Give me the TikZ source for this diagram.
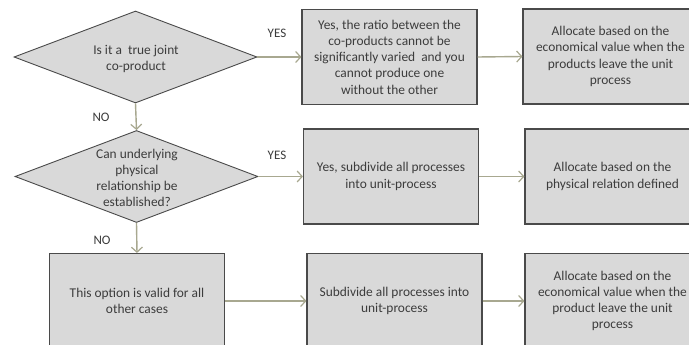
\documentclass[tikz,border=0pt]{standalone}
\usepackage{fontspec}
\setmainfont{Carlito}
\usetikzlibrary{shapes.geometric,arrows.meta}
\definecolor{boxfill}{HTML}{D9D9D9}
\definecolor{boxline}{HTML}{4A4A4A}
\definecolor{txt}{HTML}{3C3C3C}
\definecolor{arr}{HTML}{A8A890}
\tikzset{
  procbox/.style={draw=boxline, line width=1.1pt, fill=boxfill, rectangle,
    minimum width=175pt, minimum height=95pt, inner sep=0pt,
    align=center, text=txt, font=\fontsize{13.4}{16.2}\selectfont},
  decbox/.style={draw=boxline, line width=0.9pt, fill=boxfill, shape=diamond,
    minimum width=243pt, minimum height=92pt, inner sep=0pt, aspect=2.64},
  dectext/.style={align=center, text=txt, font=\fontsize{13.4}{16.2}\selectfont},
  flow/.style={draw=arr, line width=1.4pt, -{Straight Barb[length=5pt,width=11pt,line width=1.2pt]}},
  anslabel/.style={text=txt, font=\fontsize{13}{15}\selectfont},
}
\begin{document}
\begin{tikzpicture}[x=1pt,y=-1pt]
\useasboundingbox (0,0) rectangle (689,345);
\clip (0,0) rectangle (689,345);
\fill[white] (0,0) rectangle (689,345);
% diamonds
\node[decbox] (d1) at (135.5,57) {};
\node[dectext] (d1t) at (136,59) {Is it a\ \ true joint\\co-product};
\node[decbox] (d2) at (136.5,176.5) {};
\node[dectext] (d2t) at (137,178) {Can underlying\\physical\\relationship be\\established?};
% row 1
\node[procbox] (b1) at (389.5,57) {Yes, the ratio between the\\co-products cannot be\\significantly varied\ \ and you\\cannot produce one\\without the other};
\node[procbox] (b2) at (610.5,56.5) {Allocate based on the\\economical value when the\\products leave the unit\\process};
% row 2
\node[procbox] (b3) at (391,176.5) {Yes, subdivide all processes\\into unit-process};
\node[procbox] (b4) at (612.5,176.5) {Allocate based on the\\physical relation defined};
% row 3
\node[procbox] (b5) at (137,301) {This option is valid for all\\other cases};
\node[procbox] (b6) at (394.5,301) {Subdivide all processes into\\unit-process};
\node[procbox] (b7) at (612.5,301) {Allocate based on the\\economical value when the\\product leave the unit\\process};
% connectors
\draw[flow] (d1.east) -- (b1.west);
\draw[flow] (b1.east) -- (b2.west);
\draw[flow] (d1.south) -- (d2.north);
\draw[flow] (d2.east) -- (b3.west);
\draw[flow] (b3.east) -- (b4.west);
\draw[flow] (d2.south) -- (b5.north);
\draw[flow] (b5.east) -- (b6.west);
\draw[flow] (b6.east) -- (b7.west);
% labels
\node[anslabel] (y1) at (277,33) {YES};
\node[anslabel] (y2) at (277,155) {YES};
\node[anslabel] (n1) at (101,117) {NO};
\node[anslabel] (n2) at (102,240) {NO};
\end{tikzpicture}
\end{document}
